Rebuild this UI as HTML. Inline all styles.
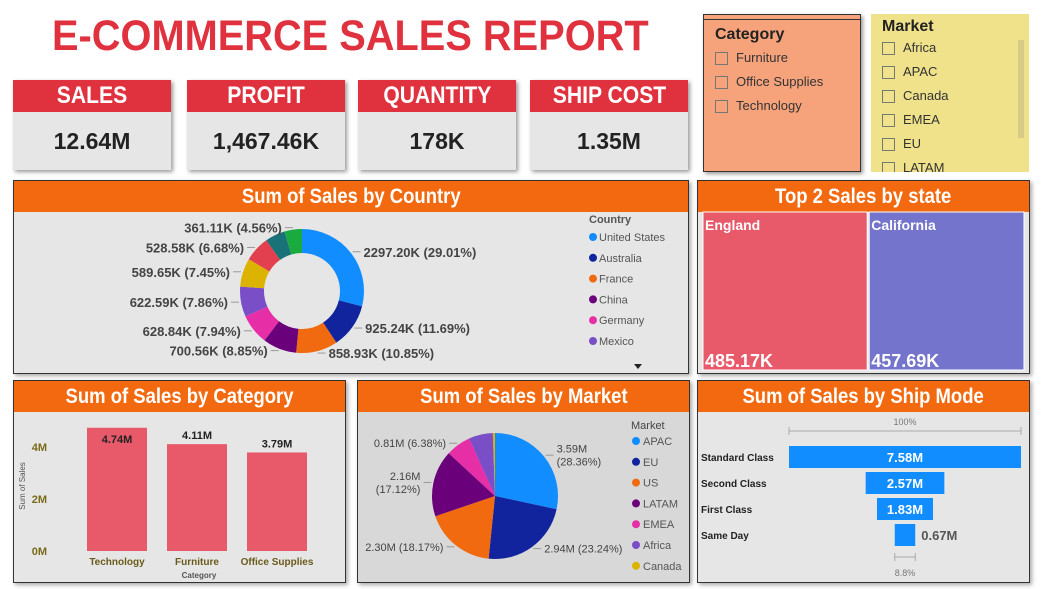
<!DOCTYPE html>
<html><head><meta charset="utf-8"><style>
body{margin:0;width:1043px;height:589px;background:#fff;font-family:"Liberation Sans",sans-serif;position:relative;overflow:hidden}
.abs{position:absolute}
.kpi{position:absolute;top:80px;width:158px;height:90px;background:#e6e6e6;box-shadow:2px 2px 4px #999}
.kpi .h{background:#e0313f;color:#fff;font-weight:bold;font-size:24px;text-align:center;height:32px;line-height:32px}
.kpi .h span,.ph span{display:inline-block;transform:scaleX(0.88)}
.kpi .v{font-weight:bold;font-size:23px;text-align:center;line-height:58px;color:#222}
.panel{position:absolute;background:#e6e6e6;border:1px solid #333;box-shadow:2px 2px 4px #aaa}
.ph{background:#f2690f;color:#fff;font-weight:bold;font-size:21px;text-align:center;height:31px;line-height:31px}
.sl{position:absolute;font-size:13px;color:#333}
.sl .it{height:24px;line-height:24px;display:flex;align-items:center}
.cb{width:11px;height:11px;border:1px solid #777;margin-right:8px}
</style></head><body>
<div class="abs" style="left:52px;top:12px;font-size:43px;font-weight:bold;color:#e0313f;transform:scaleX(0.925);transform-origin:0 0;white-space:nowrap">E-COMMERCE SALES REPORT</div>

<div class="kpi" style="left:13px"><div class="h"><span>SALES</span></div><div class="v">12.64M</div></div>
<div class="kpi" style="left:187px"><div class="h"><span>PROFIT</span></div><div class="v">1,467.46K</div></div>
<div class="kpi" style="left:358px"><div class="h"><span>QUANTITY</span></div><div class="v">178K</div></div>
<div class="kpi" style="left:530px"><div class="h"><span>SHIP COST</span></div><div class="v">1.35M</div></div>

<div class="sl" style="left:703px;top:14px;width:156px;height:156px;background:#f6a37c;border:1px solid #333;box-shadow:2px 2px 4px #999">
 <div style="border-top:1px solid #333;margin-top:4px;padding:6px 0 0 11px">
 <div style="font-weight:bold;font-size:16px;color:#222;margin-bottom:2px">Category</div>
 <div class="it"><span class="cb"></span>Furniture</div>
 <div class="it"><span class="cb"></span>Office Supplies</div>
 <div class="it"><span class="cb"></span>Technology</div></div>
</div>
<div class="sl" style="left:871px;top:14px;width:158px;height:158px;background:#efe28a;overflow:hidden">
 <div style="padding:4px 0 0 11px">
 <div style="font-weight:bold;font-size:16px;color:#222">Market</div>
 <div class="it"><span class="cb"></span>Africa</div>
 <div class="it"><span class="cb"></span>APAC</div>
 <div class="it"><span class="cb"></span>Canada</div>
 <div class="it"><span class="cb"></span>EMEA</div>
 <div class="it"><span class="cb"></span>EU</div>
 <div class="it"><span class="cb"></span>LATAM</div></div>
 <div class="abs" style="left:147px;top:26px;width:6px;height:98px;background:#d6cc88"></div>
</div>

<div class="panel" style="left:13px;top:180px;width:674px;height:192px"><div class="ph"><span>Sum of Sales by Country</span></div></div>
<div class="panel" style="left:697px;top:180px;width:331px;height:192px"><div class="ph"><span>Top 2 Sales by state</span></div></div>
<div class="panel" style="left:13px;top:380px;width:331px;height:201px"><div class="ph"><span>Sum of Sales by Category</span></div></div>
<div class="panel" style="left:357px;top:380px;width:331px;height:201px;background:#d8d8d8"><div class="ph"><span>Sum of Sales by Market</span></div></div>
<div class="panel" style="left:697px;top:380px;width:331px;height:201px"><div class="ph"><span>Sum of Sales by Ship Mode</span></div></div>

<svg id="chart" class="abs" style="left:0;top:0" width="1043" height="589" font-family="Liberation Sans, sans-serif"></svg>

<script>
const countryNames=["United States","Australia","France","China","Germany","Mexico","India","UK","Brazil","Spain"];
const countryValues=[2297.20,925.24,858.93,700.56,628.84,622.59,589.65,528.58,412.0,361.11];
const countryLabels=["2297.20K (29.01%)","925.24K (11.69%)","858.93K (10.85%)","700.56K (8.85%)","628.84K (7.94%)","622.59K (7.86%)","589.65K (7.45%)","528.58K (6.68%)","","361.11K (4.56%)"];
const countryColors=["#118dff","#12239e","#f26a0f","#6b007b","#e62ea7","#7a4ec7","#dbb300","#e2404f","#197278","#1aab40"];
const stateNames=["England","California"];
const stateValues=[485.17,457.69];
const stateLabels=["485.17K","457.69K"];
const catNames=["Technology","Furniture","Office Supplies"];
const catValues=[4.74,4.11,3.79];
const catTicks=[0,2,4];
const marketNames=["APAC","EU","US","LATAM","EMEA","Africa","Canada"];
const marketValues=[3.59,2.94,2.30,2.16,0.81,0.78,0.07];
const marketLabels=["3.59M|(28.36%)","2.94M (23.24%)","2.30M (18.17%)","2.16M|(17.12%)","0.81M (6.38%)","",""];
const marketColors=["#118dff","#12239e","#f26a0f","#6b007b","#e62ea7","#7a4ec7","#dbb300"];
const shipNames=["Standard Class","Second Class","First Class","Same Day"];
const shipValues=[7.58,2.57,1.83,0.67];
const shipLabels=["7.58M","2.57M","1.83M","0.67M"];

const svg=document.getElementById('chart');const NS='http://www.w3.org/2000/svg';
function mk(t,a,txt){const e=document.createElementNS(NS,t);for(const k in a)e.setAttribute(k,a[k]);if(txt!==undefined)e.textContent=txt;svg.appendChild(e);return e;}
function arc(cx,cy,r0,r1,a0,a1){const p=(r,a)=>[cx+r*Math.sin(a),cy-r*Math.cos(a)];const l=a1-a0>Math.PI?1:0;const [x1,y1]=p(r1,a0),[x2,y2]=p(r1,a1);
 if(r0<=0){return `M${cx},${cy}L${x1},${y1}A${r1},${r1} 0 ${l} 1 ${x2},${y2}Z`;}
 const [x3,y3]=p(r0,a1),[x4,y4]=p(r0,a0);return `M${x1},${y1}A${r1},${r1} 0 ${l} 1 ${x2},${y2}L${x3},${y3}A${r0},${r0} 0 ${l} 0 ${x4},${y4}Z`;}

(function(){const cx=302,cy=291,R=62,r=38;const tot=countryValues.reduce((a,b)=>a+b,0);let a=0;
countryValues.forEach((v,i)=>{const a1=a+v/tot*2*Math.PI;const e=mk('path',{d:arc(cx,cy,r,R,a,a1),fill:countryColors[i]});

const m=(a+a1)/2;if(countryLabels[i]){const right=Math.sin(m)>=0;const x0=cx+(R+2)*Math.sin(m),y0=cy-(R+2)*Math.cos(m);const x1=x0+(right?8:-8);
mk('polyline',{points:`${x0},${y0} ${x1},${y0}`,stroke:'#999',fill:'none'});
const t=mk('text',{x:x1+(right?3:-3),y:y0+5,'font-size':13,'font-weight':'bold',fill:'#444','text-anchor':right?'start':'end'},countryLabels[i]);
}a=a1;});
mk('text',{x:589,y:223,'font-size':11,'font-weight':'bold',fill:'#555'},'Country');
countryNames.slice(0,6).forEach((n,i)=>{const y=237+i*20.8;const c=mk('circle',{cx:593,cy:y,r:4,fill:countryColors[i]});
const t=mk('text',{x:599,y:y+4,'font-size':11,fill:'#555'},n);});
mk('path',{d:'M634,364 l8,0 l-4,5z',fill:'#222'});})();

(function(){const x0=703,y0=212,W=323,H=158;const tot=stateValues.reduce((a,b)=>a+b,0);let x=x0;const cols=["#e85a6a","#7474cc"];
stateValues.forEach((v,i)=>{const w=v/tot*W;const r=mk('rect',{x:x,y:y0,width:w-2,height:H,fill:cols[i],stroke:'#fff','stroke-width':1});

mk('text',{x:x+2,y:y0+18,'font-size':14,'font-weight':'bold',fill:'#fff'},stateNames[i]);
mk('text',{x:x+2,y:y0+H-3,'font-size':18,'font-weight':'bold',fill:'#fff'},stateLabels[i]);x+=w;});})();

(function(){const base=551,ppu=26;const y=v=>base-v*ppu;
catTicks.forEach(t=>{const e=mk('text',{x:47,y:y(t)+4,'font-size':11,'font-weight':'bold',fill:'#7a6a1a','text-anchor':'end'},t+'M');});
const yt=mk('text',{transform:'translate(25,486) rotate(-90)','font-size':8,fill:'#555','text-anchor':'middle'},'Sum of Sales');
catValues.forEach((v,i)=>{const x=87+i*80;const b=mk('rect',{x:x,y:y(v),width:60,height:v*ppu,fill:'#e85a6a'});
const inside=i===0;mk('text',{x:x+30,y:inside?y(v)+15:y(v)-5,'font-size':11,'font-weight':'bold',fill:'#222','text-anchor':'middle'},v.toFixed(2)+'M');
mk('text',{x:x+30,y:565,'font-size':10,'font-weight':'bold',fill:'#6a5a1a','text-anchor':'middle'},catNames[i]);});
const xt=mk('text',{x:199,y:578,'font-size':8,'font-weight':'bold',fill:'#555','text-anchor':'middle'},'Category');})();

(function(){const cx=495,cy=496,R=63;const tot=marketValues.reduce((a,b)=>a+b,0);let a=0;
marketValues.forEach((v,i)=>{const a1=a+v/tot*2*Math.PI;const e=mk('path',{d:arc(cx,cy,0,R,a,a1),fill:marketColors[i]});
const m=(a+a1)/2;if(marketLabels[i]){const right=Math.sin(m)>=0;const x0=cx+(R+2)*Math.sin(m),y0=cy-(R+2)*Math.cos(m);const x1=x0+(right?8:-8);
mk('polyline',{points:`${x0},${y0} ${x1},${y0}`,stroke:'#999',fill:'none'});const parts=marketLabels[i].split('|');
parts.forEach((p,k)=>{mk('text',{x:x1+(right?3:-3),y:y0+4+(k-(parts.length-1)/2)*13,'font-size':11,fill:'#444','text-anchor':right?'start':'end'},p);});}a=a1;});
mk('text',{x:631,y:429,'font-size':11,fill:'#444'},'Market');
marketNames.forEach((n,i)=>{const y=441+i*20.8;mk('circle',{cx:636,cy:y,r:4,fill:marketColors[i]});
const t=mk('text',{x:643,y:y+4,'font-size':11,fill:'#555'},n);});})();

(function(){const cx=905,maxW=232;const w=v=>v/shipValues[0]*maxW;
mk('text',{x:cx,y:425,'font-size':9,fill:'#777','text-anchor':'middle'},'100%');
mk('path',{d:`M${cx-maxW/2},427 l0,8 M${cx-maxW/2},431 L${cx+maxW/2},431 M${cx+maxW/2},427 l0,8`,stroke:'#aaa',fill:'none'});
shipValues.forEach((v,i)=>{const y=446+i*26;const bw=w(v);const b=mk('rect',{x:cx-bw/2,y:y,width:bw,height:22,fill:'#118dff'});
mk('text',{x:701,y:y+15,'font-size':10,'font-weight':'bold',fill:'#222'},shipNames[i]);
if(bw>40)mk('text',{x:cx,y:y+16,'font-size':13,'font-weight':'bold',fill:'#fff','text-anchor':'middle'},shipLabels[i]);
else mk('text',{x:cx+bw/2+6,y:y+16,'font-size':13,'font-weight':'bold',fill:'#555'},shipLabels[i]);});
const sw=w(shipValues[3]);mk('path',{d:`M${cx-sw/2},553 l0,8 M${cx-sw/2},557 L${cx+sw/2},557 M${cx+sw/2},553 l0,8`,stroke:'#aaa',fill:'none'});
mk('text',{x:cx,y:576,'font-size':9,fill:'#777','text-anchor':'middle'},(shipValues[3]/shipValues[0]*100).toFixed(1)+'%');})();
</script>
</body></html>
